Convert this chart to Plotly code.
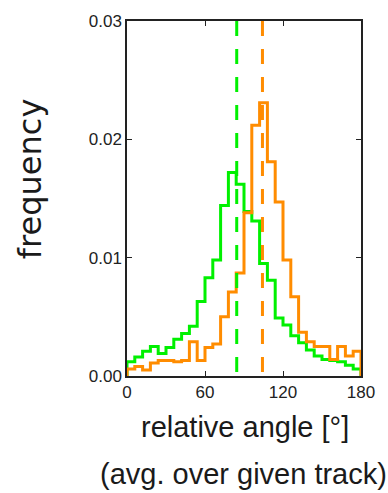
import plotly.graph_objects as go

# bin edges (degrees) - 30 bins of 6 degrees
bin_edges = [0, 6, 12, 18, 24, 30, 36, 42, 48, 54, 60, 66, 72, 78, 84, 90,
             96, 102, 108, 114, 120, 126, 132, 138, 144, 150, 156, 162, 168, 174, 180]

green_freq = [0.0012, 0.0016, 0.0021, 0.0025, 0.0019, 0.0024, 0.0031, 0.0036,
              0.0042, 0.0063, 0.0083, 0.0098, 0.0144, 0.0172, 0.0162, 0.0139,
              0.0131, 0.0095, 0.0081, 0.0049, 0.0043, 0.0034, 0.0028, 0.0022,
              0.0017, 0.0014, 0.0013, 0.0012, 0.0009, 0.0006]

orange_freq = [0.0006, 0.0008, 0.0005, 0.0011, 0.0013, 0.0013, 0.0012, 0.0013,
               0.0029, 0.0013, 0.0024, 0.0027, 0.0050, 0.0071, 0.0087, 0.0138,
               0.0212, 0.0231, 0.0181, 0.0147, 0.0098, 0.0067, 0.0037, 0.0029,
               0.0025, 0.0025, 0.0014, 0.0025, 0.0017, 0.0021]

green_mean = 84.4
orange_mean = 104.2

x_ticks = [0, 60, 120, 180]
y_ticks = [0.00, 0.01, 0.02, 0.03]

GREEN = "#00f000"
ORANGE = "#ff8c00"


def step_xy(edges, vals):
    xs = [edges[0]] + list(edges) + [edges[-1]]
    ys = [0] + list(vals) + [vals[-1], 0]
    return xs, ys


fig = go.Figure()
gx, gy = step_xy(bin_edges, green_freq)
ox, oy = step_xy(bin_edges, orange_freq)
fig.add_trace(go.Scatter(x=gx, y=gy, mode="lines", line=dict(color=GREEN, width=3, shape="hv"),
                         showlegend=False, hoverinfo="skip"))
fig.add_trace(go.Scatter(x=ox, y=oy, mode="lines", line=dict(color=ORANGE, width=3, shape="hv"),
                         showlegend=False, hoverinfo="skip"))
for m, c in ((green_mean, GREEN), (orange_mean, ORANGE)):
    fig.add_trace(go.Scatter(x=[m, m], y=[y_ticks[-1], y_ticks[0]], mode="lines",
                             line=dict(color=c, width=3, dash="15px,13px"),
                             showlegend=False, hoverinfo="skip"))

axis_common = dict(showline=True, linecolor="#222222", linewidth=1.5, mirror="allticks",
                   ticks="inside", ticklen=5, tickwidth=1, tickcolor="#222222",
                   showgrid=False, zeroline=False,
                   tickfont=dict(family="Liberation Sans, Arial, sans-serif", size=17, color="#222222"))

fig.update_xaxes(range=[0, 180], tickvals=x_ticks, ticktext=[str(v) for v in x_ticks], **axis_common)
fig.update_yaxes(range=[0, 0.03], tickvals=y_ticks, ticktext=[f"{v:.2f}" for v in y_ticks], **axis_common)

fig.add_annotation(text="relative angle [°]", xref="paper", yref="paper", x=0.506, y=0,
                   xanchor="center", yanchor="top", yshift=-33, showarrow=False,
                   font=dict(family="Liberation Sans, Arial, sans-serif", size=29, color="#1a1a1a"))
fig.add_annotation(text="(avg. over given track)", xref="paper", yref="paper", x=0.498, y=0,
                   xanchor="center", yanchor="top", yshift=-80, showarrow=False,
                   font=dict(family="Liberation Sans, Arial, sans-serif", size=29, color="#1a1a1a"))
fig.add_annotation(text="frequency", xref="paper", yref="paper", x=-0.4145, y=0.5545,
                   xanchor="center", yanchor="middle", textangle=-90, showarrow=False,
                   font=dict(family="DejaVu Sans, sans-serif", size=32, color="#1a1a1a"))

fig.update_layout(width=388, height=493, margin=dict(l=127, r=27, t=18, b=117),
                  paper_bgcolor="white", plot_bgcolor="white")
fig.write_html("out.html")
